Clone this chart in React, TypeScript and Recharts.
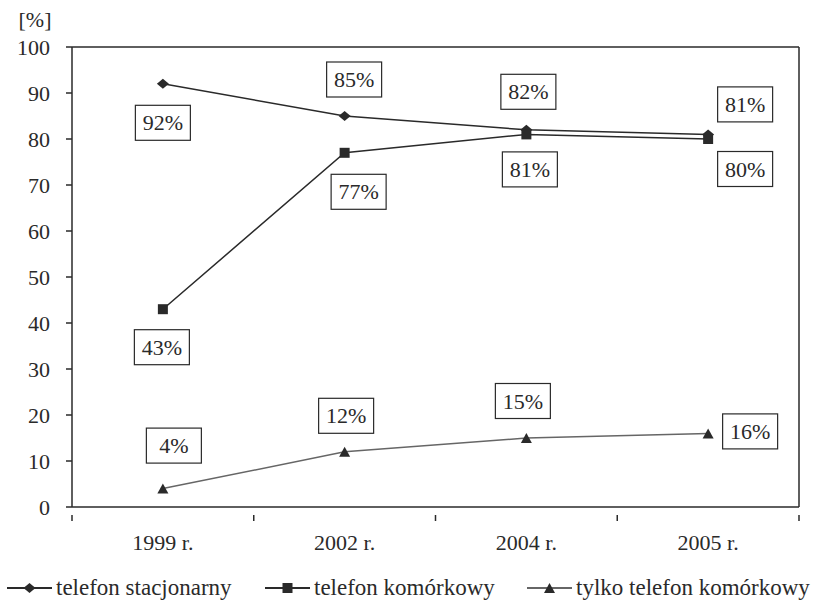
import React from 'react';
import {
  LineChart, Line, XAxis, YAxis, Legend, ReferenceLine, LabelList,
} from 'recharts';

const years = ['1999 r.', '2002 r.', '2004 r.', '2005 r.'];
const stacjonarny = [92, 85, 82, 81];
const komorkowy = [43, 77, 81, 80];
const tylkoKomorkowy = [4, 12, 15, 16];
const yTicks = [0, 10, 20, 30, 40, 50, 60, 70, 80, 90, 100];

// label box offsets from each point (dx, dy)
const stacOffsets = [[0, 39], [9.5, -36.5], [2, -38], [37, -30]];
const komOffsets = [[-1, 38], [14, 39], [3.5, 35], [37, 30]];
const tylkoOffsets = [[11, -43], [1.5, -36], [-3.5, -37], [42, -2]];

const data = years.map((year, i) => ({
  x: i + 0.5,
  year,
  stac: stacjonarny[i],
  kom: komorkowy[i],
  tylko: tylkoKomorkowy[i],
}));

const FONT = "'Times New Roman', 'Liberation Serif', 'DejaVu Serif', serif";
const INK = '#2a2a2a';
const txt = { fontFamily: FONT, fontSize: 22 };
const legendTxt = { fontFamily: FONT, fontSize: 23 };

const Diamond = ({ cx, cy }: any) => (
  <polygon points={`${cx - 6},${cy} ${cx},${cy - 5} ${cx + 6},${cy} ${cx},${cy + 5}`} fill={INK} />
);
const Square = ({ cx, cy }: any) => (
  <rect x={cx - 5} y={cy - 5} width={10} height={10} fill={INK} />
);
const Triangle = ({ cx, cy }: any) => (
  <polygon points={`${cx - 5.5},${cy + 5} ${cx + 5.5},${cy + 5} ${cx},${cy - 5}`} fill={INK} />
);

const boxLabel = (offsets: number[][]) => (props: any) => {
  const { x, y, value, index } = props;
  const [dx, dy] = offsets[index];
  const cx = x + dx;
  const cy = y + dy;
  return (
    <g>
      <rect x={cx - 27.5} y={cy - 17.5} width={55} height={35} fill="#fff" stroke={INK} strokeWidth={1.2} />
      <text x={cx} y={cy + 7.5} textAnchor="middle" style={txt} fill={INK}>
        {value}%
      </text>
    </g>
  );
};

const XTick = ({ x, y, payload }: any) => {
  const v = payload.value;
  if (Number.isInteger(v)) {
    return <line x1={x} y1={y} x2={x} y2={y + 6} stroke={INK} strokeWidth={1.5} />;
  }
  return (
    <text x={x} y={y + 35} textAnchor="middle" style={txt} fill={INK}>
      {years[Math.floor(v)]}
    </text>
  );
};

const legendItems = [
  { label: 'telefon stacjonarny', x: 7, Marker: Diamond, color: INK },
  { label: 'telefon komórkowy', x: 265, Marker: Square, color: INK },
  { label: 'tylko telefon komórkowy', x: 527, Marker: Triangle, color: '#666' },
];

const LegendContent = () => (
  <svg width={817} height={33}>
    {legendItems.map(({ label, x, Marker, color }) => (
      <g key={label}>
        <line x1={x} y1={21} x2={x + 45} y2={21} stroke={color} strokeWidth={2} />
        <Marker cx={x + 22.5} cy={21} />
        <text x={x + 49} y={28} style={legendTxt} fill={INK}>{label}</text>
      </g>
    ))}
  </svg>
);

export default function App() {
  return (
    <div style={{ position: 'absolute', left: 0, top: 0, background: '#fff' }}>
      <LineChart
        width={817}
        height={600}
        data={data}
        margin={{ top: 47, right: 18, bottom: 0, left: 0 }}
      >
        <XAxis
          dataKey="x"
          type="number"
          domain={[0, 4]}
          ticks={[0, 0.5, 1, 1.5, 2, 2.5, 3, 3.5, 4]}
          interval={0}
          height={60}
          stroke={INK}
          strokeWidth={1.5}
          tickLine={false}
          tick={<XTick />}
        />
        <YAxis
          domain={[0, 100]}
          ticks={yTicks}
          interval={0}
          width={72}
          stroke={INK}
          strokeWidth={1.5}
          tickSize={6}
          tickMargin={16}
          tick={{ style: txt, fill: INK }}
          label={{
            content: () => (
              <text x={35} y={27} textAnchor="middle" style={txt} fill={INK}>[%]</text>
            ),
          }}
        />
        <ReferenceLine y={100} stroke={INK} strokeWidth={1.5} />
        <ReferenceLine x={4} stroke={INK} strokeWidth={1.5} />
        <Legend verticalAlign="bottom" height={33} content={<LegendContent />} />
        <Line dataKey="stac" stroke={INK} strokeWidth={1.5} dot={<Diamond />} isAnimationActive={false}>
          <LabelList dataKey="stac" content={boxLabel(stacOffsets)} />
        </Line>
        <Line dataKey="kom" stroke={INK} strokeWidth={1.5} dot={<Square />} isAnimationActive={false}>
          <LabelList dataKey="kom" content={boxLabel(komOffsets)} />
        </Line>
        <Line dataKey="tylko" stroke="#666" strokeWidth={1.5} dot={<Triangle />} isAnimationActive={false}>
          <LabelList dataKey="tylko" content={boxLabel(tylkoOffsets)} />
        </Line>
      </LineChart>
    </div>
  );
}
